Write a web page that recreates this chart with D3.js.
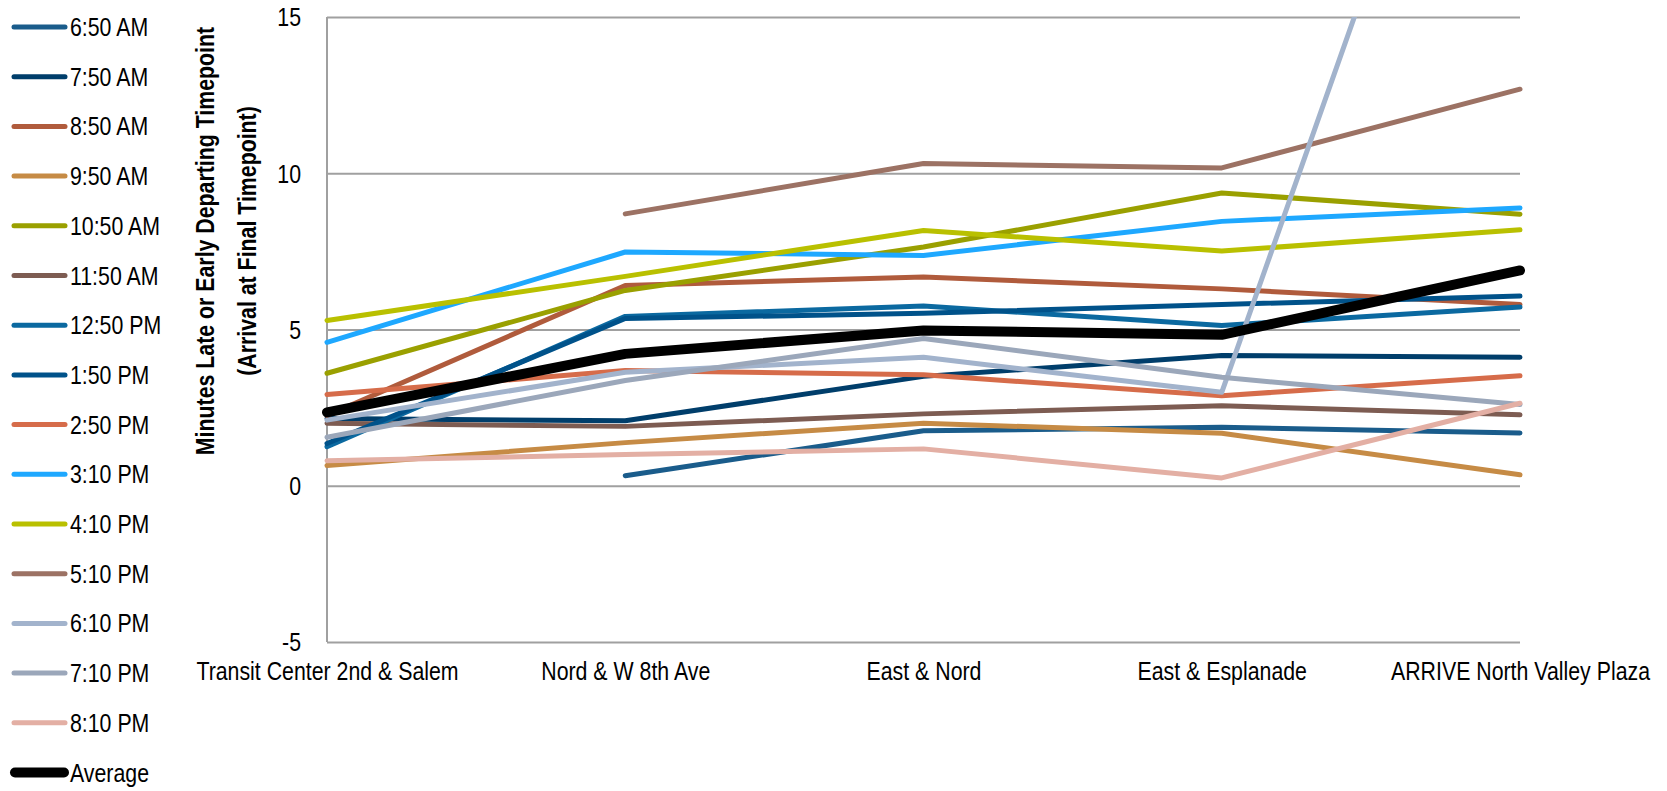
<!DOCTYPE html>
<html>
<head>
<meta charset="utf-8">
<script src="https://cdn.jsdelivr.net/npm/d3@7"></script>
<style>
  html, body { margin: 0; padding: 0; background: #fff; }
  svg { display: block; }
  text { font-family: "Liberation Sans", Arial, sans-serif; fill: #000; }
</style>
</head>
<body>
<svg id="chart" width="1667" height="791"></svg>
<script>
// Stops along the route
const categories = ["Transit Center 2nd & Salem", "Nord & W 8th Ave", "East & Nord", "East & Esplanade", "ARRIVE North Valley Plaza"];

// Minutes late (+) or early (-) at each stop, one array per trip
const trip0650am = [null, 0.32, 1.76, 1.87, 1.69];
const trip0750am = [2.15, 2.08, 3.5, 4.17, 4.11];
const trip0850am = [2.25, 6.41, 6.68, 6.3, 5.8];
const trip0950am = [0.65, 1.38, 2.0, 1.68, 0.35];
const trip1050am = [3.6, 6.25, 7.64, 9.37, 8.69];
const trip1150am = [2.0, 1.9, 2.3, 2.56, 2.27];
const trip1250pm = [1.25, 5.42, 5.75, 5.13, 5.72];
const trip0150pm = [1.35, 5.35, 5.52, 5.8, 6.07];
const trip0250pm = [2.92, 3.69, 3.55, 2.88, 3.52];
const trip0310pm = [4.59, 7.48, 7.37, 8.46, 8.89];
const trip0410pm = [5.29, 6.7, 8.17, 7.51, 8.19];
const trip0510pm = [null, 8.7, 10.31, 10.17, 12.69];
const trip0610pm = [2.1, 3.63, 4.11, 2.99, 30.0];
const trip0710pm = [1.55, 3.37, 4.71, 3.47, 2.6];
const trip0810pm = [0.8, 1.0, 1.18, 0.25, 2.64];
const average    = [2.35, 4.22, 4.97, 4.83, 6.89];

const seriesNames = ["6:50 AM", "7:50 AM", "8:50 AM", "9:50 AM", "10:50 AM", "11:50 AM", "12:50 PM", "1:50 PM",
  "2:50 PM", "3:10 PM", "4:10 PM", "5:10 PM", "6:10 PM", "7:10 PM", "8:10 PM", "Average"];
const seriesValues = [trip0650am, trip0750am, trip0850am, trip0950am, trip1050am, trip1150am, trip1250pm, trip0150pm,
  trip0250pm, trip0310pm, trip0410pm, trip0510pm, trip0610pm, trip0710pm, trip0810pm, average];
const seriesColors = ["#1A5C8B", "#003E6B", "#B05B3C", "#C68B45", "#9AA000", "#7D5C52", "#0B69A0", "#00528A",
  "#D66C4A", "#1EA8FF", "#B9C000", "#9C7264", "#A2B3CC", "#9BA7BA", "#E3AFA4", "#000000"];

const yTicks = [-5, 0, 5, 10, 15];
const yTickLabels = ["-5", "0", "5", "10", "15"];
const yTitle = ["Minutes Late or Early Departing Timepoint", "(Arrival at Final Timepoint)"];

const series = seriesNames.map((name, i) => ({
  name, color: seriesColors[i], values: seriesValues[i], isAvg: name === "Average"
}));

const svg = d3.select("#chart");
const plot = { left: 327, right: 1520, top: 17, bottom: 642 };

const x = d3.scalePoint().domain(categories).range([plot.left, plot.right]);
const y = d3.scaleLinear().domain([-5, 15]).range([plot.bottom, plot.top]);

// condensed lettering: squeeze each label horizontally about its own x position
const SQUEEZE = 0.82;
function narrow(sel) {
  sel.each(function () {
    const t = d3.select(this);
    const x0 = +(t.attr("x") || 0);
    const prev = t.attr("transform") || "";
    t.attr("x", x0 / SQUEEZE).attr("transform", `${prev} scale(${SQUEEZE},1)`);
  });
}

// horizontal gridlines
const grid = svg.append("g")
  .attr("transform", `translate(${plot.left},0)`)
  .call(d3.axisLeft(y).tickValues(yTicks).tickSize(-(plot.right - plot.left)).tickFormat(""));
grid.select(".domain").remove();
grid.selectAll("line").attr("stroke", "#A0A0A0").attr("stroke-width", 2);

// vertical axis line
svg.append("line")
  .attr("x1", plot.left).attr("x2", plot.left)
  .attr("y1", plot.top).attr("y2", plot.bottom)
  .attr("stroke", "#A0A0A0").attr("stroke-width", 2);

// y tick labels
const yAxis = svg.append("g")
  .attr("transform", `translate(${plot.left},0)`)
  .call(d3.axisLeft(y).tickValues(yTicks).tickSize(0).tickPadding(26)
    .tickFormat(d => yTickLabels[yTicks.indexOf(d)]));
yAxis.select(".domain").remove();
yAxis.selectAll("text")
  .attr("font-size", 26).attr("font-family", "Liberation Sans, Arial, sans-serif").attr("fill", "#000")
  .attr("dy", "0.34em")
  .call(narrow);

// category labels
const xAxis = svg.append("g")
  .attr("transform", `translate(0,${plot.bottom})`)
  .call(d3.axisBottom(x).tickSize(0).tickPadding(38));
xAxis.select(".domain").remove();
xAxis.selectAll("text")
  .attr("font-size", 26).attr("font-family", "Liberation Sans, Arial, sans-serif").attr("fill", "#000")
  .attr("dy", "0")
  .call(narrow);

// y axis title
const titleCenterY = 241;
svg.append("g").selectAll("text").data(yTitle).join("text")
  .attr("transform", (d, i) => `translate(${214 + i * 42},${titleCenterY}) rotate(-90)`)
  .attr("text-anchor", "middle")
  .attr("font-size", 26).attr("font-weight", "bold")
  .text(d => d)
  .call(narrow);

// clip the lines to the plotting area
svg.append("clipPath").attr("id", "plot-clip")
  .append("rect")
  .attr("x", plot.left - 10).attr("y", plot.top)
  .attr("width", plot.right - plot.left + 20).attr("height", plot.bottom - plot.top + 10);

const line = d3.line()
  .defined(d => d != null)
  .x((d, i) => x(categories[i]))
  .y(d => y(d));

svg.append("g").attr("clip-path", "url(#plot-clip)")
  .selectAll("path").data(series).join("path")
  .attr("d", d => line(d.values))
  .attr("fill", "none")
  .attr("stroke", d => d.color)
  .attr("stroke-width", d => d.isAvg ? 10 : 5)
  .attr("stroke-linecap", "round")
  .attr("stroke-linejoin", "round");

// legend
const legendTop = 27, legendStep = 49.7;
const legend = svg.append("g").selectAll("g").data(series).join("g")
  .attr("transform", (d, i) => `translate(0,${legendTop + i * legendStep})`);
legend.append("line")
  .attr("x1", d => d.isAvg ? 15 : 14).attr("x2", d => d.isAvg ? 64 : 65)
  .attr("stroke", d => d.color)
  .attr("stroke-width", d => d.isAvg ? 10 : 5)
  .attr("stroke-linecap", "round");
legend.append("text")
  .attr("x", 70).attr("y", 9)
  .attr("font-size", 26)
  .text(d => d.name)
  .call(narrow);
</script>
</body>
</html>
